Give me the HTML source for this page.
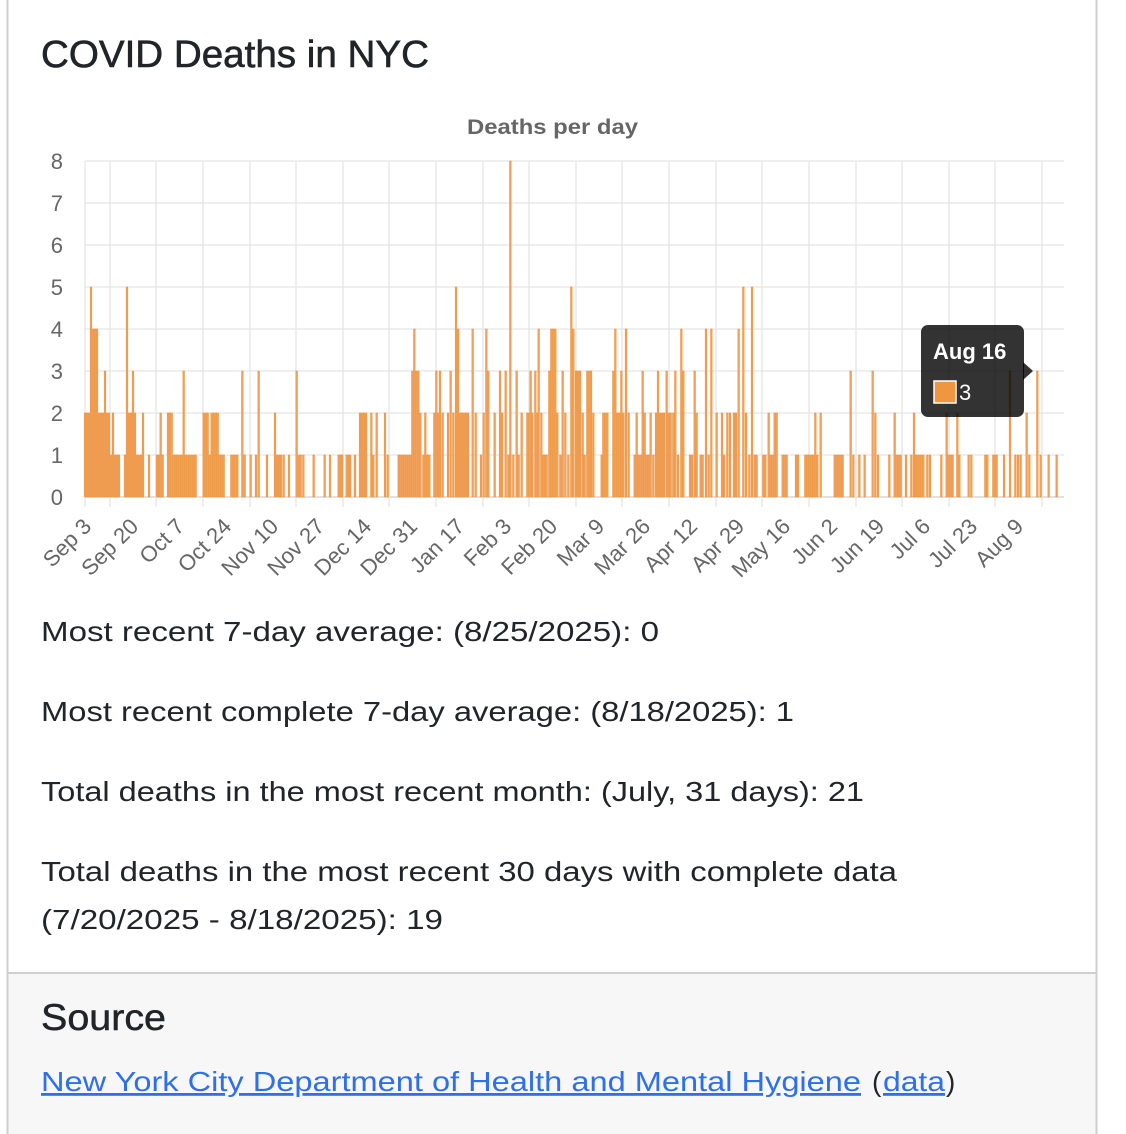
<!DOCTYPE html>
<html><head><meta charset="utf-8"><style>
html,body{margin:0;padding:0;background:#fff;width:1126px;height:1134px;overflow:hidden}
svg{display:block;font-family:"Liberation Sans",Arial,sans-serif}
</style></head><body>
<svg id="s" width="1126" height="1134" viewBox="0 0 1126 1134" xmlns="http://www.w3.org/2000/svg">
<rect x="7" y="973" width="1090" height="170" fill="#f7f7f7"/>
<line x1="7.5" y1="0" x2="7.5" y2="1134" stroke="#cfcfcf" stroke-width="2"/>
<line x1="1096.5" y1="0" x2="1096.5" y2="1134" stroke="#cfcfcf" stroke-width="2"/>
<line x1="7" y1="973" x2="1097" y2="973" stroke="#cfcfcf" stroke-width="2"/>
<text x="41" y="67" font-size="38" fill="#212529" stroke="#212529" stroke-width="0.6" textLength="388" lengthAdjust="spacingAndGlyphs">COVID Deaths in NYC</text>
<text x="467" y="134" font-size="21" font-weight="bold" fill="#666" textLength="171" lengthAdjust="spacingAndGlyphs">Deaths per day</text>
<g id="grid" stroke="#e5e5e5" stroke-width="1.3"></g>
<g id="bars" fill="#f0a360" stroke="#ee9640" stroke-width="0.6"></g>
<g id="lab" font-size="22" fill="#666"></g>
<g font-size="28" fill="#212529">
<text x="41" y="641" textLength="618" lengthAdjust="spacingAndGlyphs">Most recent 7-day average: (8/25/2025): 0</text>
<text x="41" y="721" textLength="753" lengthAdjust="spacingAndGlyphs">Most recent complete 7-day average: (8/18/2025): 1</text>
<text x="41" y="801" textLength="823" lengthAdjust="spacingAndGlyphs">Total deaths in the most recent month: (July, 31 days): 21</text>
<text x="41" y="881" textLength="856" lengthAdjust="spacingAndGlyphs">Total deaths in the most recent 30 days with complete data</text>
<text x="41" y="929" textLength="402" lengthAdjust="spacingAndGlyphs">(7/20/2025 - 8/18/2025): 19</text>
<text x="41" y="1030" font-size="37" stroke="#212529" stroke-width="0.5" textLength="125" lengthAdjust="spacingAndGlyphs">Source</text>
<text x="41" y="1091" fill="#2f6fea" text-decoration="underline" textLength="820" lengthAdjust="spacingAndGlyphs">New York City Department of Health and Mental Hygiene</text>
<text x="872" y="1091">(</text>
<text x="883" y="1091" fill="#2f6fea" text-decoration="underline" textLength="62" lengthAdjust="spacingAndGlyphs">data</text>
<text x="946" y="1091">)</text>
</g>
<g>
<rect x="921" y="325" width="103" height="92" rx="7" fill="rgba(0,0,0,0.8)"/>
<path d="M1023 362 L1033 371 L1023 380 Z" fill="rgba(0,0,0,0.8)"/>
<text x="933" y="359" font-size="22" font-weight="bold" fill="#fff">Aug 16</text>
<rect x="934" y="381" width="22" height="22" fill="#ee9640" stroke="#fff" stroke-width="1.5"/>
<text x="959" y="400" font-size="22" fill="#fff">3</text>
</g>
</svg>
<script>
var NS="http://www.w3.org/2000/svg";
function el(p,t,a,txt){var e=document.createElementNS(NS,t);for(var k in a)e.setAttribute(k,a[k]);if(txt!=null)e.textContent=txt;document.getElementById(p).appendChild(e);return e;}
var y0=497,u=42,L=85,R=1064;
for(var i=0;i<=8;i++){var y=y0-i*u;el("grid","line",{x1:L,x2:R,y1:y,y2:y,stroke:i==0?"#cfcfcf":"#e5e5e5"});el("lab","text",{x:63,y:y+8,"text-anchor":"end"},i);}
var gx=[110,156,203,250,296,343,389,436,483,529,576,622,669,716,762,809,856,902,949,995,1042];
el("grid","line",{x1:L,x2:L,y1:161,y2:507});
gx.forEach(function(x){el("grid","line",{x1:x,x2:x,y1:161,y2:507});});
var names=["Sep 3","Sep 20","Oct 7","Oct 24","Nov 10","Nov 27","Dec 14","Dec 31","Jan 17","Feb 3","Feb 20","Mar 9","Mar 26","Apr 12","Apr 29","May 16","Jun 2","Jun 19","Jul 6","Jul 23","Aug 9"];
var tx=[63].concat(gx);
names.forEach(function(n,i){var x=tx[i]+24,y=522;el("lab","text",{x:x,y:y+8,"text-anchor":"end",transform:"rotate(-45 "+x+" "+y+")"},n);});
var z1="135:2,141:2,147:2,153:5,159:4,165:4,171:4,177:2,183:2,189:2,195:3,201:2,207:2,213:1,219:2,225:1,231:1,237:1,255:1,261:5,267:2,273:2,279:3,285:2,291:1,297:1,303:1,309:2,327:1,351:1,357:1,362:2,368:1,384:2,390:2,395:2,401:1,407:1,413:1,419:1,425:1,431:3,437:1,443:1,449:1,455:1,461:1,467:1,491:2,497:2,503:2,509:1,515:2,521:2,527:2,533:2,539:1,545:1,551:1,574:1,580:1,586:1,592:1,607:3,614:1,632:1,648:1,656:3,681:1,705:2,711:1,717:1,723:1,731:1,747:1,770:3,776:1,782:1,790:1,821:1,854:1,870:1,896:1,902:1,906:1,920:1,926:1,930:1,945:1,960:2,966:2,972:2,978:2,994:2,1000:1,1010:2,1035:2,1043:1,1076:1";
var z2="61:1,67:1,73:1,79:1,85:1,91:1,97:3,103:4,109:3,115:3,121:2,130:1,136:2,142:1,148:1,163:2,169:3,175:2,180:3,188:2,204:2,212:3,220:2,228:5,234:4,240:2,246:2,252:2,258:2,264:2,278:4,287:2,303:1,311:2,319:4,325:3,344:2,360:3,366:2,377:3,385:1,391:8,400:1,410:3,416:1,425:2,442:2,448:2,452:3,457:2,466:3,470:2,476:4,484:2,490:1,496:1,500:1,508:3,514:4,520:4,526:4,532:2,541:1,548:3,556:2,565:1,574:5,580:4,588:3,594:3,600:3,608:2,614:1,622:3,628:3,633:3,640:2,665:1,670:2,676:2,682:2,700:3,706:4,712:2,718:2,724:3,730:2,738:4,746:2,764:1,770:2,776:1,782:1,788:3,794:2,800:1,806:1,812:2,820:1,828:2,834:3,840:2,846:2,852:2,860:3,866:2,872:2,880:2,886:3,894:1,904:4,910:3,930:1,936:1,944:3,950:2,962:1,968:1,978:4,986:1,994:4,1010:2";
var z3="6:2,12:1,22:2,30:2,42:2,48:2,56:4,70:5,78:2,88:1,96:5,104:1,110:1,130:1,136:1,146:2,152:1,158:1,164:2,170:2,188:1,194:1,200:1,228:1,234:1,256:1,262:1,268:1,274:1,280:1,286:2,292:1,302:2,344:1,350:1,356:1,362:1,368:1,392:3,400:1,418:1,434:1,458:3,466:2,474:1,508:1,524:2,530:1,536:1,542:1,558:1,574:1,582:2,586:1,592:1,598:1,604:1,610:1,622:1,630:1,664:1,680:2,686:1,692:1,698:1,712:2,718:1,746:1,754:1,796:1,802:1,820:1,826:1,830:1,852:1,870:3,886:1,894:1,902:1,920:2,928:1,952:3,962:1,986:1,1010:1";
function add(s,off){s.split(",").forEach(function(p){var a=p.split(":"),x=+a[0]/3+off,v=+a[1];el("bars","rect",{x:(x-0.8).toFixed(2),y:y0-v*u,width:1.6,height:v*u});});}
add(z1,40);add(z2,380);add(z3,720);
</script>
</body></html>
